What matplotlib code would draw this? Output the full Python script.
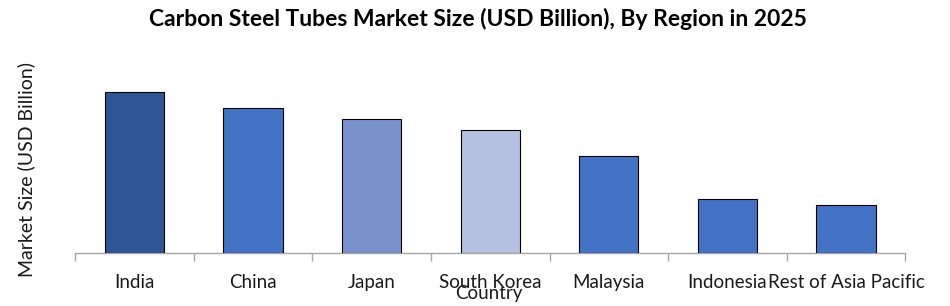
import matplotlib.pyplot as plt
import numpy as np

plt.rcParams['font.family'] = ['Lato', 'DejaVu Sans']

regions = ['India', 'China', 'Japan', 'South Korea', 'Malaysia', 'Indonesia', 'Rest of Asia Pacific']
market_size = [16.1, 14.5, 13.4, 12.3, 9.7, 5.4, 4.8]
bar_colors = ['#2F5597', '#4472C4', '#7A92CC', '#B4C1E1', '#4472C4', '#4472C4', '#4472C4']

fig = plt.figure(figsize=(9.5, 3.06), dpi=100)
ax = fig.add_axes([0.079, 0.173, 0.874, 0.63])

x = np.arange(len(regions))
ax.bar(x, market_size, width=0.5, color=bar_colors, edgecolor='black', linewidth=0.8, zorder=3)

ax.set_xlim(-0.5, len(regions) - 0.5)
ax.set_ylim(0, 19.3)

for s in ['top', 'right', 'left']:
    ax.spines[s].set_visible(False)
ax.spines['bottom'].set_color('#A6A6A6')
ax.spines['bottom'].set_linewidth(1.0)

ax.set_yticks([])
ax.set_xticks(x)
ax.set_xticklabels(regions, fontsize=13.5, color='#1a1a1a')
ax.tick_params(axis='x', which='major', length=0, pad=15)
ax.set_xticks(np.arange(-0.5, len(regions)), minor=True)
ax.tick_params(axis='x', which='minor', length=6, color='#A6A6A6', width=1.0)

# Country label overlaps the tick labels in the original
fig.text(0.515, 0.042, 'Country', fontsize=13.5, color='#1a1a1a', ha='center', va='center')

fig.text(0.028, 0.445, 'Market Size (USD Billion)', rotation=90, fontsize=14,
         color='#1a1a1a', ha='center', va='center')

fig.suptitle('Carbon Steel Tubes Market Size (USD Billion), By Region in 2025',
             x=0.503, y=0.975, fontsize=16.5, fontweight='bold', color='black')

fig.savefig('out.png', dpi=100)
